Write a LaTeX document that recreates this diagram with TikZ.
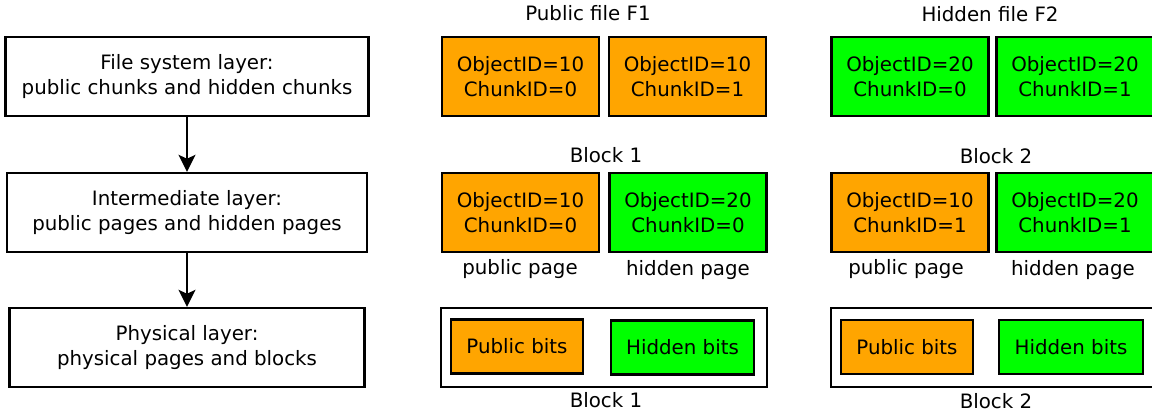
\documentclass[tikz,border=0pt]{standalone}
\usepackage{fontspec}
\setmainfont{DejaVu Sans}
\usetikzlibrary{arrows.meta}
\definecolor{pubor}{HTML}{FFA500}
\definecolor{hidgr}{HTML}{00FF00}
\begin{document}
\begin{tikzpicture}[x=1pt,y=-1pt,
  txt/.style={font=\fontsize{19.8}{25}\selectfont, align=center, inner sep=0pt},
  layerbox/.style={txt, draw, line width=2.4pt, minimum height=79pt},
  chunkbox/.style={txt, draw, line width=2.4pt, minimum width=157pt, minimum height=79pt},
  pubbox/.style={chunkbox, fill=pubor},
  hidbox/.style={chunkbox, fill=hidgr},
  bitsbox/.style={txt, draw, line width=2.4pt, minimum height=54pt},
  blockbox/.style={draw, line width=2pt, minimum height=79pt, inner sep=0pt},
  lbl/.style={txt},
  flow/.style={line width=2.4pt, -{Stealth[length=17pt,width=17pt,inset=4pt]}}
]
\clip (0,0) rectangle (1152,417);
\fill[white] (0,0) rectangle (1152,417);

% left layers
\node[layerbox, minimum width=363pt] (fs) at (187,76.5) {File system layer:\\public chunks and hidden chunks};
\node[layerbox, minimum width=360pt] (im) at (187,212.5) {Intermediate layer:\\public pages and hidden pages};
\node[layerbox, minimum width=355pt] (ph) at (187,347.5) {Physical layer:\\physical pages and blocks};
\draw[flow] (fs.south) -- (im.north);
\draw[flow] (im.south) -- (ph.north);

% middle column
\node[lbl] (f1) at (588,13) {Public file F1};
\node[pubbox] (c10a) at (520.5,76.5) {ObjectID=10\\ChunkID=0};
\node[pubbox] (c10b) at (687.5,76.5) {ObjectID=10\\ChunkID=1};
\node[lbl] (b1t) at (606,155) {Block 1};
\node[pubbox] (p10a) at (520.5,212.5) {ObjectID=10\\ChunkID=0};
\node[hidbox] (p20a) at (688,212.5) {ObjectID=20\\ChunkID=0};
\node[lbl] (pp1) at (520,269) {public page};
\node[lbl] (hp1) at (688,270) {hidden page};
\node[blockbox, minimum width=326pt] (blk1) at (604,347.5) {};
\node[bitsbox, fill=pubor, minimum width=132pt] (pb1) at (517,346.5) {Public bits};
\node[bitsbox, fill=hidgr, minimum width=143pt] (hb1) at (682.5,347.5) {Hidden bits};
\node[lbl] (b1b) at (606,400) {Block 1};

% right column
\node[lbl] (f2) at (990,14) {Hidden file F2};
\node[hidbox] (c20a) at (910,76.5) {ObjectID=20\\ChunkID=0};
\node[hidbox] (c20b) at (1075,76.5) {ObjectID=20\\ChunkID=1};
\node[lbl] (b2t) at (996,156) {Block 2};
\node[pubbox] (p10b) at (910,212.5) {ObjectID=10\\ChunkID=1};
\node[hidbox] (p20b) at (1075,212.5) {ObjectID=20\\ChunkID=1};
\node[lbl] (pp2) at (906,269) {public page};
\node[lbl] (hp2) at (1073,270) {hidden page};
\node[blockbox, minimum width=326pt] (blk2) at (994,347.5) {};
\node[bitsbox, fill=pubor, minimum width=132pt] (pb2) at (907,347) {Public bits};
\node[bitsbox, fill=hidgr, minimum width=144pt] (hb2) at (1071,347) {Hidden bits};
\node[lbl] (b2b) at (996,401) {Block 2};
\end{tikzpicture}
\end{document}
